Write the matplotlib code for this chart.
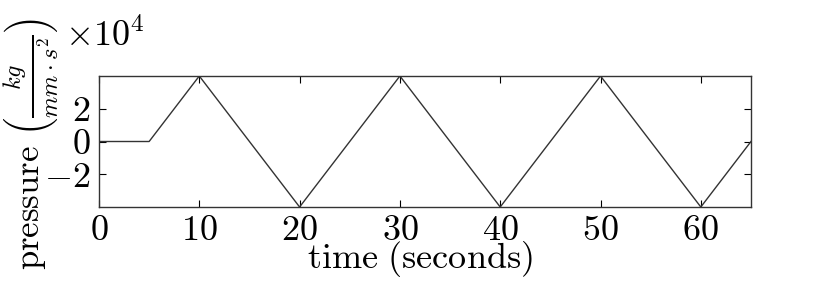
import matplotlib
matplotlib.use("Agg")
import matplotlib.pyplot as plt
from matplotlib.ticker import ScalarFormatter

# pressure waveform (time in s, pressure in kg/(mm s^2))
time = [0, 5, 10, 20, 30, 40, 50, 60, 65]
pressure = [0, 0, 40000, -40000, 40000, -40000, 40000, -40000, 0]
xticks = [0, 10, 20, 30, 40, 50, 60]
yticks = [-20000, 0, 20000]

plt.rcParams["mathtext.fontset"] = "cm"
plt.rcParams["font.family"] = "serif"
plt.rcParams["font.serif"] = ["cmr10"]
plt.rcParams["axes.formatter.use_mathtext"] = True
plt.rcParams["axes.unicode_minus"] = True

fig = plt.figure(figsize=(8.31, 3.05), dpi=100)
ax = fig.add_axes([0.1191, 0.3213, 0.7846, 0.4295])
ax.plot(time, pressure, color="#333333", linewidth=1.0)

ax.set_xlim(0, 65)
ax.set_ylim(-40000, 40000)
ax.set_xticks(xticks)
ax.set_yticks(yticks)
fmt = ScalarFormatter(useMathText=True)
fmt.set_powerlimits((0, 0))
ax.yaxis.set_major_formatter(fmt)
ax.tick_params(direction="in", top=True, right=True, length=5, width=0.8,
               labelsize=26, pad=6)
for s in ax.spines.values():
    s.set_linewidth(1.0)
    s.set_color("#333333")

ax.set_xlabel(r"$\mathrm{time\ (seconds)}$", fontsize=26, labelpad=-6)
ax.xaxis.label.set_x(0.493)
ax.set_ylabel(r"$\mathrm{pressure}\ \left(\frac{kg}{mm\cdot s^2}\right)$",
              fontsize=25)
ax.yaxis.set_label_coords(-0.058, 0.48)
off = ax.yaxis.get_offset_text()
off.set_fontsize(26)
off.set_x(-0.052)
ax.yaxis.OFFSETTEXTPAD = 22

fig.savefig("out.png", dpi=100)
